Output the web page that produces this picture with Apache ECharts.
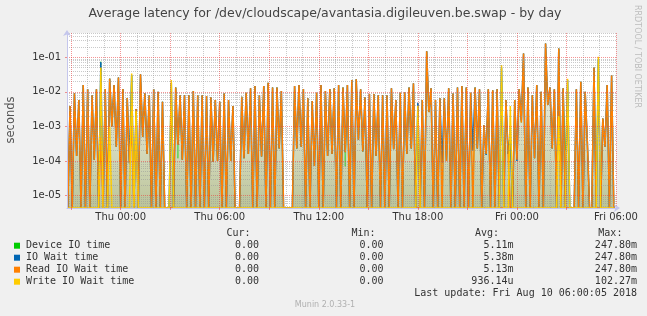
<!DOCTYPE html>
<html><head><meta charset="utf-8">
<script src="https://cdn.jsdelivr.net/npm/echarts@6/dist/echarts.min.js"></script>
<style>html,body{margin:0;padding:0;background:#f0f0f0;}#c{width:647px;height:316px;}</style>
</head><body><div id="c"></div>
<script>
// ---------- data ----------
const seriesNames  = ['Device IO time', 'IO Wait time', 'Read IO Wait time', 'Write IO Wait time'];
const seriesColors = ['#00CC00', '#0066B3', '#FF8000', '#FFCC00'];
const legendCur = ['0.00', '0.00', '0.00', '0.00'];
const legendMin = ['0.00', '0.00', '0.00', '0.00'];
const legendAvg = ['5.11m', '5.38m', '5.13m', '936.14u'];
const legendMax = ['247.80m', '247.80m', '247.80m', '102.27m'];
const yTickValues = [1e-5, 1e-4, 1e-3, 1e-2, 1e-1];
const yTickLabels = ['1e-05', '1e-04', '1e-03', '1e-02', '1e-01'];
const xTickLabels = ['Thu 00:00', 'Thu 06:00', 'Thu 12:00', 'Thu 18:00', 'Fri 00:00', 'Fri 06:00'];
const xTickTimes = [
  new Date(2018, 7, 9, 0, 0).getTime(), new Date(2018, 7, 9, 6, 0).getTime(),
  new Date(2018, 7, 9, 12, 0).getTime(), new Date(2018, 7, 9, 18, 0).getTime(),
  new Date(2018, 7, 10, 0, 0).getTime(), new Date(2018, 7, 10, 6, 0).getTime()
];
const X_MIN = new Date(2018, 7, 8, 20, 45).getTime();
const X_MAX = new Date(2018, 7, 10, 6, 0).getTime();
const SAMPLE_START = new Date(2018, 7, 8, 20, 48).getTime();
const SAMPLE_STEP = 8 * 60 * 1000;
const Y_MIN = 4.4e-6, Y_MAX = 0.5;

// peak value of each burst, and the value that follows it (first entry = value before the first burst)
const devicePeak = [
0.0039,0.009,0.0058,0.0157,0.0118,0.008,0.0118,0.075,0.012,0.024,
0.0157,0.026,0.012,0.0066,0.03,0.0032,0.032,0.009,0.008,0.0118,
0.010,0.0052,0,0.018,0.0134,0.008,0.008,0.008,0.0105,0.008,
0.008,0.0075,0.0069,0.0058,0.0052,0.009,0.0058,0.0039,0,0.0072,
0.0094,0.0126,0.0146,0.008,0.0146,0.0182,0.0134,0.0134,0.0105,0,
0,0.0146,0.0157,0.012,0.0065,0.0054,0.0094,0.0157,0.0105,0.012,
0.0126,0.0157,0.0134,0.0157,0.022,0.023,0.0118,0.0069,0.0086,0.0086,
0.008,0.008,0.008,0.0126,0.0058,0.0094,0.0095,0.0134,0.0175,0.0045,
0.0058,0.149,0.0126,0.0058,0.0065,0.0065,0.0126,0.009,0.0134,0.0146,
0.0134,0.0094,0.0134,0.0118,0.0011,0.0118,0.011,0.0118,0.05,0.0058,
0.0008,0.0058,0.0118,0.128,0.0134,0.008,0.0157,0.01,0.2478,0.0134,
0.0118,0.178,0.0126,0.02,0,0.0118,0.0195,0.01,0,0.05,
0.09,0.0017,0.0157,0.030];
const deviceLow = [
0,0,1.4e-4,0,0,0,1.1e-4,0,0,0,
1e-3,2.6e-4,0,0,8.7e-5,0,0,5e-4,1.6e-4,0,
0,0,0,0,0,1.2e-4,1.1e-4,0,0,0,
0,0,0,9.5e-5,1e-4,0,0,1e-4,0,0,
1.2e-4,1.6e-4,0,0,1.35e-4,0,0,0,2.3e-4,0,
0,0,2.3e-4,2.6e-4,0,0,7.2e-5,0,0,1.4e-4,
1.6e-4,0,0,7e-5,0,0,4.1e-4,1.9e-4,0,0,
1.4e-4,0,0,0,2.2e-4,0,0,1.6e-4,2.3e-4,0,
0,0,2.6e-3,0,0,0,1e-4,0,0,0,
0,0,0,2.3e-4,0,1.6e-4,0,0,0,0,
1.6e-4,0,1.1e-4,1.3e-3,0,0,1.2e-4,0,0,4.2e-3,
2.3e-4,0,0,2e-4,0,0,0,0,3.3e-4,0,
0,0,2.6e-4,0,0];
const ioWaitPeak = [
0.0039,0.009,0.0058,0.0157,0.0118,0.008,0.0118,0.072,0.012,0.024,
0.0157,0.026,0.012,0.0066,0.03,0.0032,0.032,0.009,0.008,0.0118,
0.010,0.0052,0,0.018,0.0134,0.008,0.008,0.008,0.0105,0.008,
0.008,0.0075,0.0069,0.0058,0.0052,0.009,0.0058,0.0039,0,0.0072,
0.0094,0.0126,0.0146,0.008,0.0146,0.0182,0.0134,0.0134,0.0105,0,
0,0.0146,0.0157,0.012,0.0065,0.0054,0.0094,0.0157,0.0105,0.012,
0.0126,0.0157,0.0134,0.0157,0.022,0.023,0.0118,0.0069,0.0086,0.0086,
0.008,0.008,0.008,0.0126,0.0058,0.0094,0.0095,0.0134,0.0175,0.0048,
0.0058,0.149,0.0126,0.0058,0.0065,0.0065,0.0126,0.009,0.0134,0.0146,
0.0134,0.0094,0.0134,0.0118,0.0011,0.0118,0.011,0.0118,0.05,0.0058,
0.0006,0.0058,0.0118,0.128,0.0134,0.008,0.0157,0.01,0.2478,0.0134,
0.0118,0.178,0.0126,0.022,0,0.0118,0.0195,0.01,0,0.05,
0.085,0.0017,0.0157,0.030];
const ioWaitLow = [
0,0,1.4e-4,0,0,0,1.1e-4,0,0,0,
1e-3,2.6e-4,0,0,8.7e-5,0,0,5e-4,1.6e-4,0,
0,0,0,0,0,2.9e-4,1.1e-4,0,0,0,
0,0,0,9.5e-5,1e-4,0,0,1e-4,0,0,
1.2e-4,1.6e-4,0,0,1.35e-4,0,0,0,2.3e-4,0,
0,0,2.3e-4,2.6e-4,0,0,7.2e-5,0,0,1.4e-4,
1.6e-4,0,0,1.8e-4,0,0,4.1e-4,1.9e-4,0,0,
1.4e-4,0,0,0,2.2e-4,0,0,1.6e-4,2.3e-4,0,
0,0,2.6e-3,0,0,8.7e-5,1e-4,0,0,0,
0,0,2e-4,2.3e-4,0,1.5e-4,0,0,0,0,
1.6e-4,0,1e-4,1.5e-3,0,0,1.2e-4,0,0,4.2e-3,
2.3e-4,0,0,0,0,0,0,0,3.3e-4,0,
0,0,2.6e-4,0,0];
const readPeak = [
0.0039,0.009,0.0058,0.0157,0.0118,0.008,0.0118,0.0005,0.012,0.024,
0.0157,0.026,0.012,0.0066,0.001,0.0032,0.032,0.009,0.008,0.0118,
0.010,0.0052,0,0,0.0134,0.008,0.008,0.008,0.0105,0.008,
0.008,0.0075,0.0069,0.0058,0.0052,0.009,0.0058,0.0039,0,0.0072,
0.0094,0.0126,0.0146,0.008,0.0146,0.0182,0.0134,0.0134,0.0105,0,
0,0.0146,0.0157,0.012,0.0065,0.0054,0.0094,0.0157,0.0105,0.012,
0.0126,0.0157,0.0134,0.0157,0.022,0.023,0.0118,0.0069,0.0086,0.0086,
0.008,0.008,0.008,0.0126,0.0058,0.0094,0.0095,0.0134,0.0175,0,
0.0058,0.149,0.0126,0.0058,0.0065,0.0065,0.0126,0.009,0.0134,0.0146,
0.0134,0.0094,0.0134,0.0118,0.0011,0.0118,0.011,0.0118,0,0.0058,
0,0.0058,0.0118,0.128,0.0134,0.008,0.0157,0.01,0.2478,0.0134,
0.0118,0.178,0.0126,0,0,0.0118,0.0195,0.01,0,0.05,
0,0.0017,0.0157,0.030];
const readLow = [
0,0,1.4e-4,0,0,0,1.1e-4,0,0,0,
1e-3,2.6e-4,0,0,8.7e-5,0,0,5e-4,1.6e-4,0,
0,0,0,0,0,2.9e-4,1.1e-4,0,0,0,
0,0,0,9.5e-5,1e-4,0,0,1e-4,0,0,
1.2e-4,1.6e-4,0,0,1.35e-4,0,0,0,2.3e-4,0,
0,0,2.3e-4,2.6e-4,0,0,7.2e-5,0,0,1.4e-4,
1.6e-4,0,0,1.8e-4,0,0,4.1e-4,1.9e-4,0,0,
1.4e-4,0,0,0,2.2e-4,0,0,1.6e-4,2.3e-4,0,
0,0,2.6e-3,0,0,0,1e-4,0,0,0,
0,0,0,2.3e-4,0,1.6e-4,0,0,0,0,
1.6e-4,0,1.1e-4,1.3e-3,0,0,1.2e-4,0,0,4.2e-3,
2.3e-4,0,0,0,0,0,0,0,3.3e-4,0,
0,0,2.6e-4,0,0];
const writePeak = [
0,0,0,0,0,0,0,0.05,0,0.001,
0,0,0,0,0.034,0.0028,0,0,0,0,
0,0,0,0.022,0,0,0,0,0,0,
0,0,0,0,0,0,0,0,0,0,
0,0,0,0,0,0,0,0,0,0,
0,0,0,0,0,0,0,0,0,0,
0,0,0,0,0,0,0,0,0,0,
0,0,0,0,0,0,0,0,0,0.0039,
0,0,0,0,0,0,0,0,0,0,
0,0,0,0,0,0,0,0,0.059,0,
0.0039,0,0,0,0,0,0,0,0,0,
0,0.002,0,0.024,0,0,0,0,0,0,
0.1023,0,0,0];
const writeLow = [
0,0,0,0,0,0,0,0,0,0, 0,0,0,0,0,0,0,0,0,0, 0,0,0,0,0,0,0,0,0,0,
0,0,0,0,0,0,0,0,0,0, 0,0,0,0,0,0,0,0,0,0, 0,0,0,0,0,0,0,0,0,0,
0,0,0,0,0,0,0,0,0,0, 0,0,0,0,0,0,0,0,0,0, 0,0,0,0,0,0,0,0,0,0,
0,0,0,0,0,0,0,0,0,0, 0,0,0,0,0,0,0,0,0,0, 0,0,0,0,0,0,0,0,0,0,
0,0,0,0,0];

// ---------- build ----------
// zero is drawn on the bottom edge of the log axis (as rrdtool does)
function build(peaks, lows) {
  const out = [];
  for (let i = 0; i < lows.length; i++) {
    out.push([SAMPLE_START + 2 * i * SAMPLE_STEP, lows[i] > 0 ? lows[i] : Y_MIN]);
    if (i < peaks.length) out.push([SAMPLE_START + (2 * i + 1) * SAMPLE_STEP, peaks[i] > 0 ? peaks[i] : Y_MIN]);
  }
  return out;
}
const HOUR = 3600 * 1000;
const majorX = [], minorX = [];
for (let t = new Date(2018, 7, 8, 21, 0).getTime(); t <= X_MAX; t += HOUR) {
  (new Date(t).getHours() % 3 === 0 ? majorX : minorX).push(t);
}
const minorY = [];
for (let e = -6; e <= -1; e++) for (let m = 2; m <= 9; m++) {
  const v = m * Math.pow(10, e);
  if (v >= Y_MIN && v <= Y_MAX * 1.0001) minorY.push(v);
}

const MGRID = 'rgba(235,60,60,0.55)';
const GRID = 'rgba(150,150,150,0.5)';
const AXIS = '#c4c6ec';
const SANS = '"DejaVu Sans", sans-serif';
const MONO = '"DejaVu Sans Mono", monospace';

function nearestLabel(values, labels, v, log) {
  let best = 0, bd = Infinity;
  values.forEach((x, i) => { const d = log ? Math.abs(Math.log10(x) - Math.log10(v)) : Math.abs(x - v); if (d < bd) { bd = d; best = i; } });
  return labels[best];
}

const chart = echarts.init(document.getElementById('c'), null, { renderer: 'canvas', width: 647, height: 316 });

const graphic = [
  { type: 'text', x: 325, y: 14, style: { text: 'Average latency for /dev/cloudscape/avantasia.digileuven.be.swap - by day', font: '12.5px ' + SANS, fill: '#444', textAlign: 'center', textVerticalAlign: 'middle' } },
  { type: 'text', x: 11, y: 120, rotation: Math.PI / 2, style: { text: 'seconds', font: '11.5px ' + SANS, fill: '#555', textAlign: 'center', textVerticalAlign: 'middle' } },
  { type: 'text', x: 637.5, y: 5, rotation: -Math.PI / 2, style: { text: 'RRDTOOL / TOBI OETIKER', font: '8px ' + SANS, fill: '#bdbdbd', textAlign: 'left', textVerticalAlign: 'middle' } },
  { type: 'text', x: 250.6, y: 233.3, style: { text: 'Cur:', font: '10px ' + MONO, fill: '#333', textAlign: 'right', textVerticalAlign: 'middle' } },
  { type: 'text', x: 375.5, y: 233.3, style: { text: 'Min:', font: '10px ' + MONO, fill: '#333', textAlign: 'right', textVerticalAlign: 'middle' } },
  { type: 'text', x: 499, y: 233.3, style: { text: 'Avg:', font: '10px ' + MONO, fill: '#333', textAlign: 'right', textVerticalAlign: 'middle' } },
  { type: 'text', x: 622.4, y: 233.3, style: { text: 'Max:', font: '10px ' + MONO, fill: '#333', textAlign: 'right', textVerticalAlign: 'middle' } },
  { type: 'text', x: 637, y: 293.3, style: { text: 'Last update: Fri Aug 10 06:00:05 2018', font: '10px ' + MONO, fill: '#333', textAlign: 'right', textVerticalAlign: 'middle' } },
  { type: 'text', x: 325, y: 305.3, style: { text: 'Munin 2.0.33-1', font: '8px ' + SANS, fill: '#b0b0b0', textAlign: 'center', textVerticalAlign: 'middle' } }
];
seriesNames.forEach((name, i) => {
  const y = 245.7 + i * 12;
  graphic.push({ type: 'rect', shape: { x: 14, y: y - 3, width: 6, height: 6 }, style: { fill: seriesColors[i] } });
  graphic.push({ type: 'text', x: 26, y: y, style: { text: name, font: '10px ' + MONO, fill: '#333', textAlign: 'left', textVerticalAlign: 'middle' } });
  graphic.push({ type: 'text', x: 259, y: y, style: { text: legendCur[i], font: '10px ' + MONO, fill: '#333', textAlign: 'right', textVerticalAlign: 'middle' } });
  graphic.push({ type: 'text', x: 383.5, y: y, style: { text: legendMin[i], font: '10px ' + MONO, fill: '#333', textAlign: 'right', textVerticalAlign: 'middle' } });
  graphic.push({ type: 'text', x: 513.5, y: y, style: { text: legendAvg[i], font: '10px ' + MONO, fill: '#333', textAlign: 'right', textVerticalAlign: 'middle' } });
  graphic.push({ type: 'text', x: 637, y: y, style: { text: legendMax[i], font: '10px ' + MONO, fill: '#333', textAlign: 'right', textVerticalAlign: 'middle' } });
});

const common = { type: 'line', symbol: 'none', showSymbol: false, silent: true, animation: false, clip: true, xAxisIndex: 0, yAxisIndex: 0 };

chart.setOption({
  backgroundColor: '#f0f0f0',
  animation: false,
  grid: { left: 67, right: 31, top: 33, bottom: 108, show: true, backgroundColor: '#ffffff', borderWidth: 0, containLabel: false, outerBoundsMode: 'none' },
  xAxis: [
    { type: 'value', min: X_MIN, max: X_MAX, z: 5, position: 'bottom',
      axisLine: { show: true, lineStyle: { color: AXIS, width: 1 }, symbol: ['none', 'arrow'], symbolSize: [6, 6], symbolOffset: [0, 4] },
      axisTick: { show: true, customValues: majorX, length: 2, lineStyle: { color: MGRID } },
      splitLine: { show: true, lineStyle: { color: MGRID, type: [1, 1], width: 1 } },
      axisLabel: { show: true, customValues: xTickTimes, margin: 4, fontFamily: SANS, fontSize: 10, color: '#333', showMinLabel: true, showMaxLabel: true, hideOverlap: false,
        formatter: v => nearestLabel(xTickTimes, xTickLabels, v, false) } },
    { type: 'value', min: X_MIN, max: X_MAX, z: 4, position: 'bottom',
      axisLine: { show: false }, axisLabel: { show: false },
      axisTick: { show: false, customValues: minorX },
      splitLine: { show: true, lineStyle: { color: GRID, type: [1, 1], width: 1 } } }
  ],
  yAxis: [
    { type: 'log', logBase: 10, min: Y_MIN, max: Y_MAX, z: 5,
      axisLine: { show: true, lineStyle: { color: AXIS, width: 1 }, symbol: ['none', 'arrow'], symbolSize: [6, 6], symbolOffset: [0, 3] },
      axisTick: { show: true, customValues: yTickValues, length: 2, lineStyle: { color: MGRID } },
      splitLine: { show: true, lineStyle: { color: MGRID, type: [1, 1], width: 1 } },
      minorTick: { show: false }, minorSplitLine: { show: false },
      axisLabel: { show: true, customValues: yTickValues, margin: 6, fontFamily: SANS, fontSize: 10, color: '#333',
        formatter: v => nearestLabel(yTickValues, yTickLabels, v, true) } },
    { type: 'log', logBase: 10, min: Y_MIN, max: Y_MAX, z: 4, position: 'left',
      axisLine: { show: false }, axisLabel: { show: false },
      axisTick: { show: false, customValues: minorY },
      splitLine: { show: true, lineStyle: { color: GRID, type: [1, 1], width: 1 } } }
  ],
  series: [
    Object.assign({}, common, { name: seriesNames[0], data: build(devicePeak, deviceLow), z: 2,
      lineStyle: { color: 'rgba(0,204,0,0.5)', width: 1 },
      areaStyle: { origin: 'start', color: new echarts.graphic.LinearGradient(0, 0, 0, 1, [
        { offset: 0, color: 'rgba(200,212,178,0.3)' }, { offset: 0.5, color: 'rgba(170,182,122,0.58)' }, { offset: 1, color: 'rgba(135,150,75,0.82)' }]) } }),
    Object.assign({}, common, { name: seriesNames[1], data: build(ioWaitPeak, ioWaitLow), z: 2,
      lineStyle: { color: seriesColors[1], width: 1.5 } }),
    Object.assign({}, common, { name: seriesNames[2], data: build(readPeak, readLow), z: 2,
      lineStyle: { color: seriesColors[2], width: 1.5 } }),
    Object.assign({}, common, { name: seriesNames[3], data: build(writePeak, writeLow), z: 2,
      lineStyle: { color: seriesColors[3], width: 1.5 } })
  ],
  graphic: graphic
});
</script></body></html>
